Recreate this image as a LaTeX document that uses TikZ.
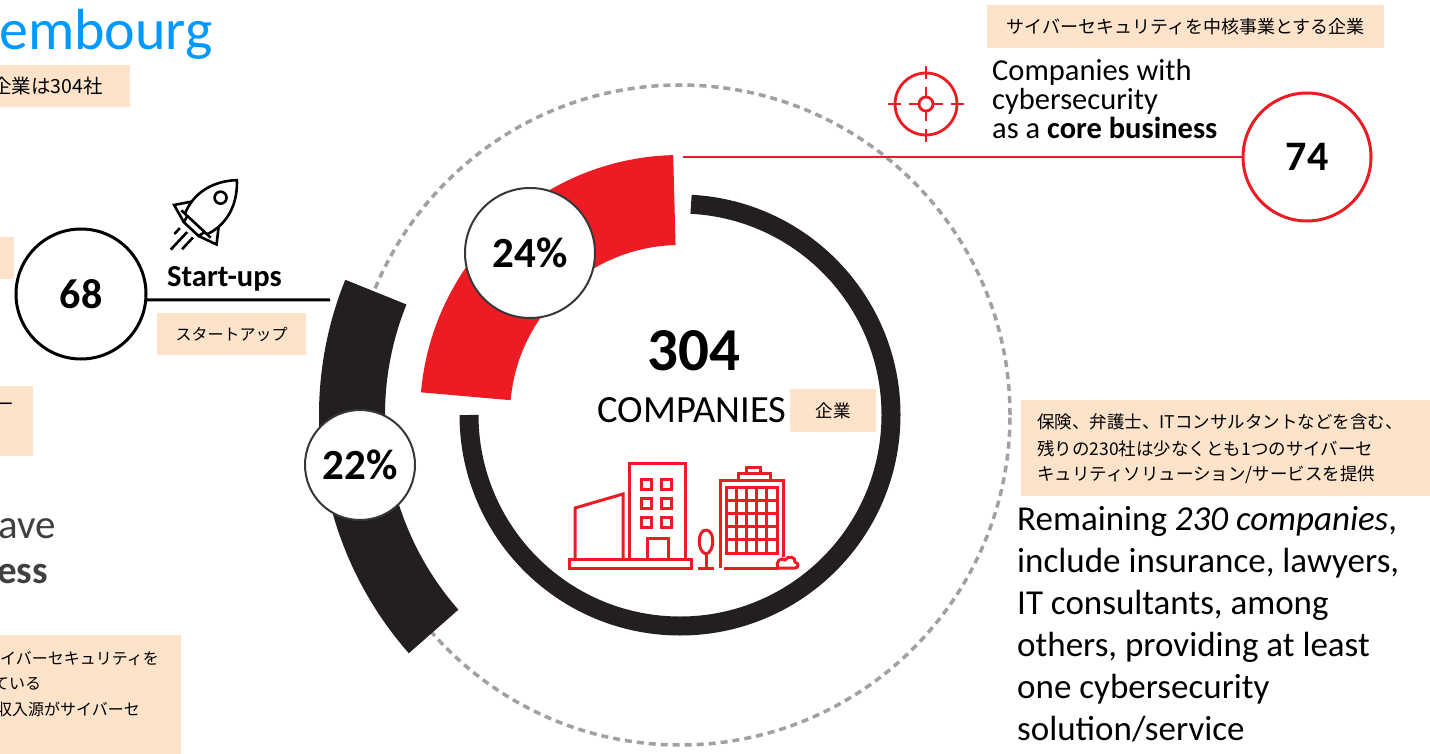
\documentclass[tikz,border=0pt]{standalone}
\usepackage{fontspec}
\setmainfont{Carlito}
\newfontfamily\jp{Noto Sans CJK JP}
\definecolor{cred}{RGB}{237,28,36}
\definecolor{cblack}{RGB}{35,31,32}
\definecolor{cbeige}{RGB}{252,227,202}
\definecolor{cdash}{RGB}{160,160,165}
\definecolor{cblue}{RGB}{0,153,255}
\definecolor{cgray}{RGB}{64,64,64}
\definecolor{cdark}{RGB}{55,55,55}
\tikzset{
  jptext/.style={font=\jp\fontsize{17.5}{20}\selectfont, inner sep=0pt, text=black},
  jpsmall/.style={font=\jp\fontsize{16}{19}\selectfont, inner sep=0pt, text=black},
  beigebox/.style={fill=cbeige, draw=none, inner sep=0pt},
  pctcircle/.style={circle, draw=cdark, line width=2, fill=white, inner sep=0pt, font=\bfseries\fontsize{43}{50}\selectfont},
  numcircle/.style={circle, line width=3, fill=white, inner sep=0pt, font=\bfseries\fontsize{42}{50}\selectfont},
  bigline/.style={font=\fontsize{35}{42}\selectfont, anchor=base west, inner sep=0pt},
  midline/.style={font=\fontsize{30.5}{30}\selectfont, anchor=base west, inner sep=0pt},
  iconline/.style={line width=3, line join=miter},
}
\begin{document}
\begin{tikzpicture}[x=1pt,y=1pt]
\path[use as bounding box] (0,0) rectangle (1430,-754);
\clip (0,0) rectangle (1430,-754);
\fill[white] (0,0) rectangle (1430,-754);

% ---------- left (clipped) parts ----------
\node[anchor=base west, inner sep=0pt, text=cblue, font=\fontsize{58}{60}\selectfont] (title) at (-1,-50) {embourg};
\fill[cbeige] (0,-65) rectangle (130,-107);
\node[jptext, anchor=east, font=\jp\fontsize{19.5}{22}\selectfont] (tlt) at (103,-86) {企業は304社};
\fill[cbeige] (0,-237) rectangle (14,-279);
\fill[cbeige] (0,-386) rectangle (33,-456);
\node[jptext] (dash1) at (5,-407) {ー};
\node[anchor=base west, inner sep=0pt, text=cgray, font=\fontsize{41}{44}\selectfont] (ave) at (-2,-538) {ave};
\node[anchor=base west, inner sep=0pt, text=cgray, font=\bfseries\fontsize{39}{44}\selectfont] (ess) at (-3,-583) {ess};
\fill[cbeige] (0,-635) rectangle (181,-760);
\node[jpsmall, anchor=west] (bl1) at (0,-659) {イバーセキュリティを};
\node[jpsmall, anchor=west] (bl2) at (-7,-684) {ている};
\node[jpsmall, anchor=west] (bl3) at (-4,-709) {収入源がサイバーセ};

% ---------- dashed circle and rings ----------
\coordinate (ctr) at (680,-415);
\draw[cdash, line width=3.5, dash pattern=on 7 off 5] (ctr) circle (330);
\fill[cblack, shift={(680,-415)}] (158:361) arc[start angle=158, end angle=221.3, radius=361]
  -- (221.3:295) arc[start angle=221.3, end angle=158, radius=295] -- cycle;
\fill[cred, shift={(680,-415)}] (91.5:260) arc[start angle=91.5, end angle=175, radius=260]
  -- (175:170) arc[start angle=175, end angle=91.5, radius=170] -- cycle;
\draw[cblack, line width=19, shift={(680,-415)}] (87:211) arc[start angle=87, end angle=-180, radius=211];

% ---------- core business ----------
\coordinate (rl) at (683,-157);
\node[numcircle, draw=cred, minimum size=128] (c74) at (1307,-157) {74};
\draw[cred, line width=2.8] (rl) -- (c74.west);
\node[beigebox, minimum width=397, minimum height=43, jptext, font=\jp\fontsize{18}{20}\selectfont] (cbjp) at (1185.5,-26.5) {サイバーセキュリティを中核事業とする企業};
\node[midline] (cw1) at (992,-81) {Companies with};
\node[midline] (cw2) at (992,-110) {cybersecurity};
\node[midline] (cw3) at (992,-139) {as a \textbf{core business}};
\begin{scope}[cred, line width=2.8, shift={(926,-104)}]
  \draw (0,0) circle (31);
  \draw (0,0) circle (7);
  \foreach \a in {0,90,180,270} {
    \draw (\a:25) -- (\a:38);
    \draw (\a:7) -- (\a:17);
  }
\end{scope}

% ---------- percentage circles ----------
\node[pctcircle, minimum size=130] (p24) at (530,-253) {24\%};
\node[pctcircle, minimum size=110] (p22) at (360,-465) {22\%};

% ---------- start-ups ----------
\node[numcircle, draw=black, minimum size=130] (c68) at (81,-294) {68};
\coordinate (su) at (330,-300);
\draw[black, line width=3] (c68.-5) -- (su);
\node[anchor=base west, inner sep=0pt, font=\bfseries\fontsize{30.5}{32}\selectfont] (sut) at (167,-287) {Start-ups};
\node[beigebox, minimum width=149, minimum height=42, jpsmall] (sujp) at (231.5,-334) {スタートアップ};
\begin{scope}[iconline, black, line width=2.6, shift={(196,-224)}, rotate=47]
  \draw (0,-15) .. controls (14,-21) and (38,-22) .. (60,0) .. controls (38,22) and (14,21) .. (0,15);
  \draw (0,-20) -- (0,20);
  \draw (0,-12) -- (-7,-10) -- (-7,10) -- (0,12);
  \draw (14,18) -- (-1,29) -- (-7,10);
  \draw (14,-18) -- (-1,-29) -- (-7,-10);
  \draw (36,0) circle (6);
  \draw (-12,-7) -- (-28,-7);
  \draw (-12,1) -- (-36,1);
  \draw (-14,9) -- (-22,9);
\end{scope}

% ---------- centre ----------
\node[anchor=base, inner sep=0pt, font=\bfseries\fontsize{61}{62}\selectfont] (n304) at (694,-370) {304};
\node[anchor=base, inner sep=0pt, font=\fontsize{38.5}{40}\selectfont] (comp) at (692,-422) {COMPANIES};
\node[beigebox, minimum width=86, minimum height=43, jptext] (kigyo) at (833,-410.5) {企業};
\begin{scope}[cred, iconline]
  \draw (575,-559) -- (575,-508) -- (623,-494) -- (623,-559);
  \draw (569,-559) rectangle (691,-568);
  \draw (629,-559) -- (629,-463) -- (685,-463) -- (685,-559);
  \foreach \xx in {641,661} \foreach \yy in {479,498,517} {
    \draw (\xx,-\yy) rectangle ++(10,-10);
  }
  \draw (647,-559) -- (647,-538) -- (668,-538) -- (668,-559);
  \draw (706,-530) .. controls (715,-530) and (715,-552) .. (706,-554) .. controls (697,-552) and (697,-530) .. (706,-530);
  \draw (706,-554) -- (706,-568);
  \draw (698,-568) -- (714,-568);
  \draw (720,-568) -- (720,-480) -- (783,-480) -- (783,-557);
  \draw (738,-480) -- (738,-473) -- (770,-473) -- (770,-480);
  \draw (746,-473) -- (746,-467) -- (760,-467) -- (760,-473);
  \draw (726,-487) rectangle (777,-553);
  \foreach \k in {1,2,3,4} {
    \draw (726+10.2*\k,-487) -- (726+10.2*\k,-553);
    \draw (726,-487-13.2*\k) -- (777,-487-13.2*\k);
  }
  \draw (724,-568) -- (778,-568);
  \draw (778,-568) .. controls (775,-561) and (781,-557) .. (785,-560) .. controls (788,-555) and (796,-557) .. (795,-562) .. controls (799,-563) and (799,-568) .. (795,-568) -- cycle;
\end{scope}

% ---------- remaining companies ----------
\fill[cbeige] (1021,-400) rectangle (1430,-496);
\node[jptext, anchor=west] (r1) at (1037,-422) {保険、弁護士、ITコンサルタントなどを含む、};
\node[jptext, anchor=west] (r2) at (1037,-449) {残りの230社は少なくとも1つのサイバーセ};
\node[jptext, anchor=west] (r3) at (1037,-475) {キュリティソリューション/サービスを提供};
\node[bigline] (t1) at (1017,-530) {Remaining \textit{230 companies},};
\node[bigline] (t2) at (1017,-572) {include insurance, lawyers,};
\node[bigline] (t3) at (1017,-614) {IT consultants, among};
\node[bigline] (t4) at (1017,-656) {others, providing at least};
\node[bigline] (t5) at (1017,-698) {one cybersecurity};
\node[bigline] (t6) at (1017,-740) {solution/service};
\end{tikzpicture}
\end{document}
